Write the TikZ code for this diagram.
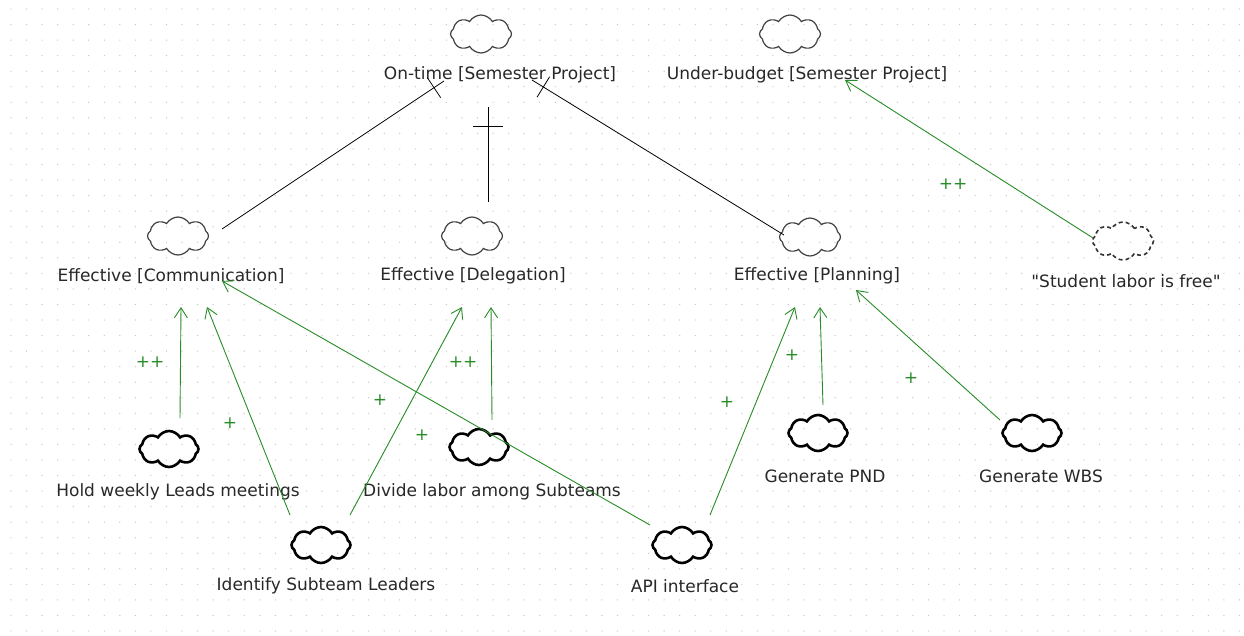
\documentclass[tikz,border=0pt]{standalone}
\usepackage{fontspec}
\setmainfont{DejaVu Sans}[Ligatures=TeXOff]
\usetikzlibrary{shapes.symbols,arrows.meta,calc}
\definecolor{lbl}{RGB}{40,40,40}
\definecolor{contrib}{RGB}{40,140,40}
\tikzset{
  sgoal/.style={cloud, cloud puffs=8, cloud puff arc=120, cloud ignores aspect, draw=black!75, line width=1.2pt,
     minimum width=61pt, minimum height=38pt, inner sep=0pt},
  task/.style={sgoal, draw=black, line width=2.6pt, minimum width=59pt, minimum height=36pt},
  belief/.style={sgoal, draw=black!80, line width=1.6pt, dash pattern=on 4pt off 3pt},
  lbltxt/.style={font=\fontsize{17}{19}\selectfont, text=lbl, inner sep=0pt},
  andline/.style={draw=black, line width=0.8pt},
  contr/.style={draw=contrib, line width=0.9pt, -{Straight Barb[length=10pt,width=13pt,line width=0.9pt]}},
  ctext/.style={font=\fontsize{17}{19}\selectfont, text=contrib, inner sep=0pt}
}
\begin{document}
\begin{tikzpicture}[x=1pt,y=-1pt]
\useasboundingbox[fill=white] (0,0) rectangle (1244,635);
% dotted grid
\foreach \i in {0,...,79}{\foreach \j in {0,...,40}{
  \fill[black!22] ({11+15.55*\i},{9+15.55*\j}) circle (0.7pt);}}
% softgoals
\node[sgoal] (ontime) at (481,34) {};
\node[lbltxt] (lontime) at (500,75) {On-time [Semester Project]};
\node[sgoal] (under) at (790,34) {};
\node[lbltxt] (lunder) at (807,75) {Under-budget [Semester Project]};
\node[sgoal] (comm) at (178,236) {};
\node[lbltxt] (lcomm) at (171,276) {Effective [Communication]};
\node[sgoal] (deleg) at (472,236) {};
\node[lbltxt] (ldeleg) at (473,276) {Effective [Delegation]};
\node[sgoal] (plan) at (810,237) {};
\node[lbltxt] (lplan) at (817,276) {Effective [Planning]};
\node[belief] (belief) at (1123,241) {};
\node[lbltxt] (lbelief) at (1126,281) {"Student labor is free"};
% tasks
\node[task] (hold) at (169,449) {};
\node[lbltxt] (lhold) at (178,492) {Hold weekly Leads meetings};
\node[task] (divide) at (479,447) {};
\node[lbltxt] (ldivide) at (492,492) {Divide labor among Subteams};
\node[task] (pnd) at (818,433) {};
\node[lbltxt] (lpnd) at (825,476) {Generate PND};
\node[task] (wbs) at (1032,433) {};
\node[lbltxt] (lwbs) at (1041,476) {Generate WBS};
\node[task] (ident) at (321,545) {};
\node[lbltxt] (lident) at (326,586) {Identify Subteam Leaders};
\node[task] (api) at (682,545) {};
\node[lbltxt] (lapi) at (685,586) {API interface};
% connector end points
\coordinate (cA0) at (222,229);  \coordinate (cA1) at (444,81);
\coordinate (cB0) at (488,202);  \coordinate (cB1) at (488,107);
\coordinate (cC0) at (784,235);  \coordinate (cC1) at (532,80);
% AND decomposition lines
\draw[andline] (cA0) -- (cA1) coordinate[pos=0.955] (tA);
\draw[andline] ($(tA)!12pt!90:(cA1)$) -- ($(tA)!12pt!-90:(cA1)$);
\draw[andline] (cB0) -- (cB1) coordinate[pos=0.8] (tB);
\draw[andline] ($(tB)!15pt!90:(cB1)$) -- ($(tB)!15pt!-90:(cB1)$);
\draw[andline] (cC0) -- (cC1) coordinate[pos=0.955] (tC);
\draw[andline] ($(tC)!12pt!90:(cC1)$) -- ($(tC)!12pt!-90:(cC1)$);
% contributions
\coordinate (e1a) at (1093,238); \coordinate (e1b) at (845,80);
\draw[contr] (e1a) -- (e1b);
\node[ctext] (p1) at (953,184) {++};
\coordinate (e2a) at (180,418); \coordinate (e2b) at (181,307);
\draw[contr] (e2a) -- (e2b);
\node[ctext] (p2) at (150,362) {++};
\coordinate (e3a) at (290,515); \coordinate (e3b) at (207,307);
\draw[contr] (e3a) -- (e3b);
\node[ctext] (p3) at (230,423) {+};
\coordinate (e4a) at (650,525); \coordinate (e4b) at (222,281);
\draw[contr] (e4a) -- (e4b);
\node[ctext] (p4) at (380,400) {+};
\coordinate (e5a) at (350,515); \coordinate (e5b) at (462,307);
\draw[contr] (e5a) -- (e5b);
\node[ctext] (p5) at (422,435) {+};
\coordinate (e6a) at (492,420); \coordinate (e6b) at (491,307);
\draw[contr] (e6a) -- (e6b);
\node[ctext] (p6) at (463,362) {++};
\coordinate (e7a) at (710,515); \coordinate (e7b) at (795,307);
\draw[contr] (e7a) -- (e7b);
\node[ctext] (p7) at (727,402) {+};
\coordinate (e8a) at (823,405); \coordinate (e8b) at (820,307);
\draw[contr] (e8a) -- (e8b);
\node[ctext] (p8) at (792,355) {+};
\coordinate (e9a) at (1000,420); \coordinate (e9b) at (856,290);
\draw[contr] (e9a) -- (e9b);
\node[ctext] (p9) at (911,378) {+};
\end{tikzpicture}
\end{document}
